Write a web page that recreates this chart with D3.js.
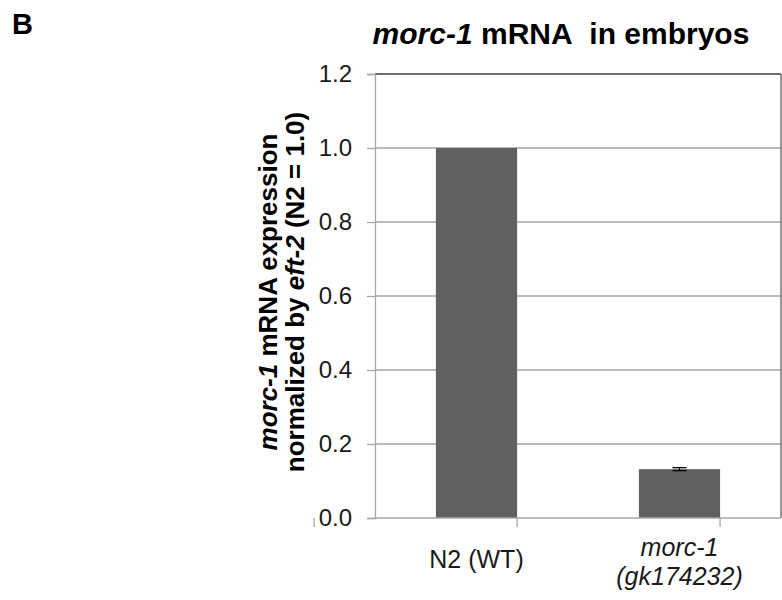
<!DOCTYPE html>
<html>
<head>
<meta charset="utf-8">
<script src="https://cdn.jsdelivr.net/npm/d3@7"></script>
<style>
  body { margin: 0; background: #fff; }
  svg { font-family: "Liberation Sans", Arial, sans-serif; }
</style>
</head>
<body>
<svg id="chart" width="782" height="600"></svg>
<script>
const categories = ["N2 (WT)", "morc-1 (gk174232)"];
const values = [1.0, 0.132];
const errors = [0.0, 0.004];
const yTicks = [0.0, 0.2, 0.4, 0.6, 0.8, 1.0, 1.2];

(function () {
const svg = d3.select("#chart");
const plotLeft = 375, plotRight = 781, plotTop = 74, plotBottom = 518;

const x = d3.scaleBand().domain(categories).range([plotLeft, plotRight]).paddingInner(0.6).paddingOuter(0.3);
const y = d3.scaleLinear().domain([0, 1.2]).range([plotBottom, plotTop]);

// Panel letter
svg.append("text").attr("x", 12).attr("y", 34).attr("font-size", 29).attr("font-weight", "bold").text("B");

// Title
const title = svg.append("text").attr("x", 561).attr("y", 44).attr("text-anchor", "middle")
  .attr("font-size", 30).attr("font-weight", "bold");
title.append("tspan").attr("font-style", "italic").text("morc-1");
title.append("tspan").text(" mRNA\u00a0 in embryos");

// Gridlines
svg.append("g").selectAll("line").data(yTicks.filter(d => d > 0 && d < 1.2)).join("line")
  .attr("x1", plotLeft).attr("x2", plotRight).attr("y1", d => y(d)).attr("y2", d => y(d))
  .attr("stroke", "#a6a6a6").attr("stroke-width", 1.3);

// Border top & right
svg.append("line").attr("x1", plotLeft).attr("x2", plotRight).attr("y1", y(1.2)).attr("y2", y(1.2))
  .attr("stroke", "#404040").attr("stroke-width", 1.3);
svg.append("line").attr("x1", plotRight).attr("x2", plotRight).attr("y1", y(1.2)).attr("y2", y(0))
  .attr("stroke", "#606060").attr("stroke-width", 1.3);

// Y axis
const yAxis = d3.axisLeft(y).tickValues(yTicks).tickFormat(d3.format(".1f")).tickSize(8).tickPadding(15);
const gy = svg.append("g").attr("transform", `translate(${plotLeft},0)`).call(yAxis);
gy.select(".domain").attr("stroke", "#a6a6a6").attr("stroke-width", 1.3);
gy.selectAll(".tick line").attr("stroke", "#a6a6a6").attr("stroke-width", 1.3);
gy.selectAll(".tick text").attr("font-size", 24).attr("fill", "#1a1a1a")
  .attr("font-family", "Liberation Sans, Arial, sans-serif");

// Bars
svg.append("g").selectAll("rect").data(categories).join("rect")
  .attr("x", d => x(d)).attr("width", x.bandwidth())
  .attr("y", (d, i) => y(values[i])).attr("height", (d, i) => y(0) - y(values[i]))
  .attr("fill", "#606060");

// Error bars
categories.forEach((d, i) => {
  if (!(errors[i] > 0)) return;
  const cx = x(d) + x.bandwidth() / 2;
  const g = svg.append("g");
  g.append("line").attr("x1", cx).attr("x2", cx).attr("y1", y(values[i] + errors[i])).attr("y2", y(values[i] - errors[i])).attr("stroke", "#000").attr("stroke-width", 1);
  [values[i] + errors[i], values[i] - errors[i]].forEach(v => {
    g.append("line").attr("x1", cx - 7).attr("x2", cx + 7).attr("y1", y(v)).attr("y2", y(v)).attr("stroke", "#000").attr("stroke-width", 1.3);
  });
});

// X axis line and category ticks
svg.append("line").attr("x1", plotLeft).attr("x2", plotRight).attr("y1", y(0)).attr("y2", y(0))
  .attr("stroke", "#a6a6a6").attr("stroke-width", 1.3);
const step = x.step();
const tickXs = d3.range(categories.length + 1).map(i => x(categories[0]) - x.paddingOuter() * step - x.paddingInner() * step / 2 + i * step);
svg.append("g").selectAll("line").data(tickXs).join("line")
  .attr("x1", d => d).attr("x2", d => d).attr("y1", y(0)).attr("y2", y(0) + 9)
  .attr("stroke", "#a6a6a6").attr("stroke-width", 1.3);

// X labels
svg.append("text").attr("x", x(categories[0]) + x.bandwidth() / 2).attr("y", 568)
  .attr("text-anchor", "middle").attr("font-size", 25).attr("fill", "#1a1a1a").text(categories[0]);
const c1 = x(categories[1]) + x.bandwidth() / 2;
const parts = categories[1].split(" ");
svg.append("text").attr("x", c1).attr("y", 556).attr("text-anchor", "middle").attr("font-size", 25)
  .attr("font-style", "italic").attr("fill", "#1a1a1a").text(parts[0]);
svg.append("text").attr("x", c1).attr("y", 585).attr("text-anchor", "middle").attr("font-size", 25)
  .attr("font-style", "italic").attr("fill", "#1a1a1a").text(parts[1]);

// Y axis title
const yt = svg.append("g").attr("transform", "translate(277,292) rotate(-90)");
const t1 = yt.append("text").attr("text-anchor", "middle").attr("font-size", 26).attr("font-weight", "bold");
t1.append("tspan").attr("font-style", "italic").text("morc-1");
t1.append("tspan").text(" mRNA expression");
const t2 = yt.append("text").attr("y", 27).attr("text-anchor", "middle").attr("font-size", 26).attr("font-weight", "bold");
t2.append("tspan").text("normalized by ");
t2.append("tspan").attr("font-style", "italic").text("eft-2");
t2.append("tspan").text(" (N2 = 1.0)");
})();
</script>
</body>
</html>
